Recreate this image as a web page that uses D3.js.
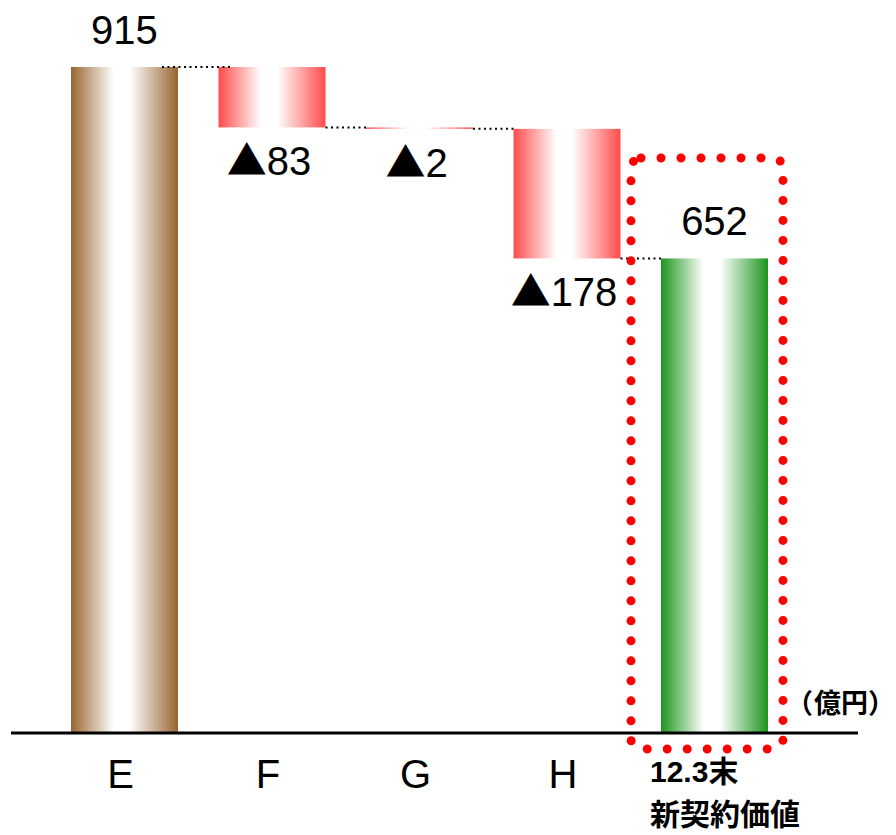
<!DOCTYPE html>
<html>
<head>
<meta charset="utf-8">
<script src="https://cdn.jsdelivr.net/npm/d3@7"></script>
<style>
  html, body { margin: 0; padding: 0; background: #fff; }
  svg { display: block; }
</style>
</head>
<body>
<svg id="chart" width="896" height="835"></svg>
<script>
// Waterfall of new business value (億円)
const categories = ["E", "F", "G", "H", "12.3末\n新契約価値"];
const values = [915, -83, -2, -178, 652];
const kinds = ["total", "delta", "delta", "delta", "total"];
const valueLabels = ["915", "▲83", "▲2", "▲178", "652"];
const unitLabel = ["（", "億円", "）"];

const W = 896, H = 835;
const svg = d3.select("#chart");
const font = "'Liberation Sans', Arial, sans-serif";
const cjk = "'Noto Sans CJK JP', 'Noto Sans CJK SC', sans-serif";

// running levels for the floating bars
let level = 0;
const bars = values.map((v, i) => {
  let y0, y1;
  if (kinds[i] === "total") { y0 = 0; y1 = v; level = v; }
  else { y0 = level; y1 = level + v; level = y1; }
  return { cat: categories[i], v, y0, y1, kind: kinds[i], label: valueLabels[i], i };
});

const x = d3.scaleBand().domain(categories).range([71, 768]).paddingInner(0.2746).paddingOuter(0);
const y = d3.scaleLinear().domain([0, 915]).range([733, 67]);

// horizontal gradients: edge colour -> white -> edge colour
const defs = svg.append("defs");
function grad(id, c) {
  const g = defs.append("linearGradient").attr("id", id).attr("x1", "0").attr("x2", "1").attr("y1", "0").attr("y2", "0");
  [[0, c], [0.4, "#ffffff"], [0.55, "#ffffff"], [1, c]].forEach(([o, col]) =>
    g.append("stop").attr("offset", o).attr("stop-color", col));
}
grad("gBrown", "#98652f");
grad("gRed", "#ff4b4b");
grad("gGreen", "#1c951c");
const fills = ["url(#gBrown)", "url(#gRed)", "url(#gRed)", "url(#gRed)", "url(#gGreen)"];

// bars
svg.append("g").selectAll("rect").data(bars).join("rect")
  .attr("x", d => x(d.cat))
  .attr("width", x.bandwidth())
  .attr("y", d => y(Math.max(d.y0, d.y1)))
  .attr("height", d => Math.abs(y(d.y0) - y(d.y1)))
  .attr("fill", (d, i) => fills[i]);

// dotted connectors between consecutive bar ends
const conn = bars.slice(0, -1).map((d, i) => ({
  x1: x(d.cat) + x.bandwidth() - (i === 0 ? 16 : 0),
  x2: x(bars[i + 1].cat) + (i === 0 ? 15 : 0),
  v: d.y1
}));
svg.append("g").selectAll("line").data(conn).join("line")
  .attr("x1", d => d.x1).attr("x2", d => d.x2)
  .attr("y1", d => y(d.v)).attr("y2", d => y(d.v))
  .attr("stroke", "#000").attr("stroke-width", 2).attr("stroke-dasharray", "2 3.5");

// baseline
svg.append("line").attr("x1", 11).attr("x2", 858).attr("y1", y(0)).attr("y2", y(0))
  .attr("stroke", "#000").attr("stroke-width", 3);

// value labels: totals above, decreases below (triangle glyph set separately)
const vl = svg.append("g").selectAll("text").data(bars).join("text")
  .attr("x", d => x(d.cat) + x.bandwidth() / 2 + (d.kind === "delta" ? -3 : 0))
  .attr("y", d => d.kind === "total" ? y(d.y1) - 23 : y(Math.min(d.y0, d.y1)) + 48)
  .attr("text-anchor", "middle")
  .attr("font-family", font).attr("font-size", 40).attr("fill", "#000");
vl.each(function (d) {
  const t = d3.select(this);
  if (d.label.startsWith("▲")) {
    t.append("tspan").attr("font-family", cjk).attr("font-size", 40).text("▲");
    t.append("tspan").text(d.label.slice(1));
  } else {
    t.text(d.label);
  }
});

// category labels
const last = categories.length - 1;
svg.append("g").selectAll("text").data(categories.slice(0, last)).join("text")
  .attr("x", d => x(d) + x.bandwidth() / 2 - 4)
  .attr("y", 788)
  .attr("text-anchor", "middle")
  .attr("font-family", font).attr("font-size", 40).attr("fill", "#000")
  .text(d => d);

// two-line label under the final total
const lastLines = categories[last].split("\n");
const lx = x(categories[last]) - 11;
svg.append("g").selectAll("text").data(lastLines).join("text")
  .attr("x", lx)
  .attr("y", (d, i) => i === 0 ? 782 : 825)
  .attr("text-anchor", "start")
  .attr("font-weight", "bold").attr("fill", "#000")
  .attr("font-family", (d, i) => i === 0 ? font + ", " + cjk : cjk)
  .attr("font-size", 30)
  .text(d => d);

// unit
const unit = svg.append("text").attr("x", 786).attr("y", 713).attr("text-anchor", "start")
  .attr("font-family", cjk).attr("font-size", 27).attr("font-weight", "bold").attr("fill", "#000");
unit.selectAll("tspan").data(unitLabel).join("tspan")
  .attr("dx", (d, i) => i === 1 ? 1 : 0)
  .text(d => d);

// red dotted highlight frame around the final total
const hx0 = x(categories[last]) - 30, hx1 = x(categories[last]) + x.bandwidth() + 15;
svg.append("rect")
  .attr("x", hx0).attr("y", 158).attr("width", hx1 - hx0).attr("height", 749 - 158)
  .attr("rx", 10)
  .attr("fill", "none").attr("stroke", "#ff0000").attr("stroke-width", 9)
  .attr("stroke-linecap", "round").attr("stroke-dasharray", "0 20");
</script>
</body>
</html>
